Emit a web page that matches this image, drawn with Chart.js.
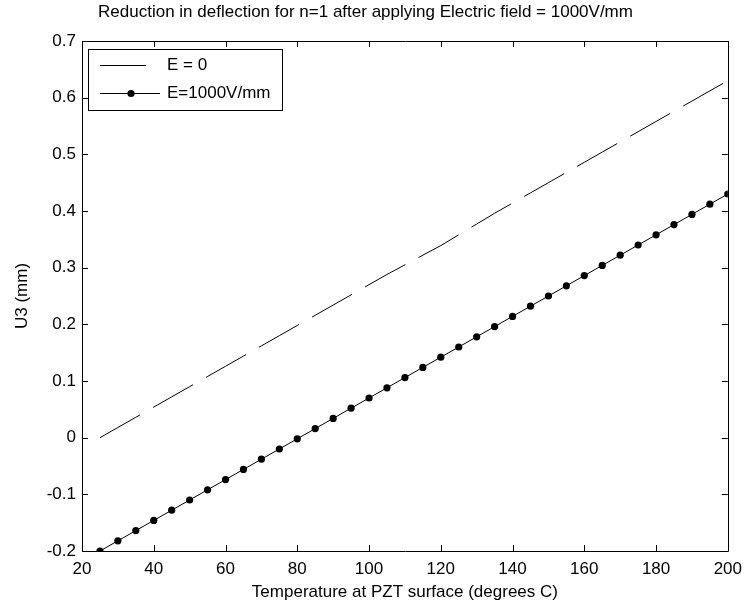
<!DOCTYPE html>
<html>
<head>
<meta charset="utf-8">
<title>Deflection vs temperature</title>
<script src="https://cdn.jsdelivr.net/npm/chart.js@4.4.1/dist/chart.umd.min.js"></script>
<style>
  html, body { margin: 0; padding: 0; background: #fff; }
  #wrap { width: 750px; height: 607px; }
</style>
</head>
<body>
<div id="wrap"><canvas id="deflChart" width="750" height="607"></canvas></div>
<script>
const FONT = '"Liberation Sans", Arial, Helvetica, sans-serif';

const temps = [25, 30, 35, 40, 45, 50, 55, 60, 65, 70, 75, 80, 85, 90, 95, 100, 105, 110,
               115, 120, 125, 130, 135, 140, 145, 150, 155, 160, 165, 170, 175, 180, 185, 190, 195, 200];

// U3 (mm) with no field applied
const u3NoField = [0.000, 0.018, 0.036, 0.054, 0.072, 0.090, 0.108, 0.126, 0.144, 0.162, 0.180, 0.198,
                   0.216, 0.234, 0.252, 0.270, 0.288, 0.305, 0.322, 0.339, 0.358, 0.377, 0.396, 0.414,
                   0.432, 0.450, 0.468, 0.486, 0.504, 0.522, 0.540, 0.558, 0.576, 0.594, 0.612, 0.630];

// U3 (mm) with E = 1000 V/mm
const u3Field = [-0.200, -0.182, -0.164, -0.146, -0.128, -0.110, -0.092, -0.074, -0.056, -0.038, -0.020, -0.002,
                 0.016, 0.034, 0.052, 0.070, 0.088, 0.106, 0.124, 0.142, 0.160, 0.178, 0.196, 0.214,
                 0.232, 0.250, 0.268, 0.286, 0.304, 0.322, 0.340, 0.358, 0.376, 0.394, 0.412, 0.430];

const xTicks = [20, 40, 60, 80, 100, 120, 140, 160, 180, 200];
const yTicks = [-0.2, -0.1, 0, 0.1, 0.2, 0.3, 0.4, 0.5, 0.6, 0.7];

const seriesNames = ['E = 0', 'E=1000V/mm'];

// box around the axes with inward ticks on all four sides
const frame = {
  id: 'frame',
  afterDraw(chart) {
    const { ctx, chartArea: a, scales } = chart;
    const len = 6;
    ctx.save();
    ctx.strokeStyle = '#000';
    ctx.lineWidth = 1;
    ctx.beginPath();
    ctx.rect(Math.round(a.left) + 0.5, Math.round(a.top) + 0.5,
             Math.round(a.right - a.left), Math.round(a.bottom - a.top));
    scales.x.ticks.forEach(t => {
      const px = Math.round(scales.x.getPixelForValue(t.value)) + 0.5;
      ctx.moveTo(px, a.bottom); ctx.lineTo(px, a.bottom - len);
      ctx.moveTo(px, a.top); ctx.lineTo(px, a.top + len);
    });
    scales.y.ticks.forEach(t => {
      const py = Math.round(scales.y.getPixelForValue(t.value)) + 0.5;
      ctx.moveTo(a.left, py); ctx.lineTo(a.left + len, py);
      ctx.moveTo(a.right, py); ctx.lineTo(a.right - len, py);
    });
    ctx.stroke();
    ctx.restore();
  }
};

// boxed legend in the upper-left corner
const boxLegend = {
  id: 'boxLegend',
  afterDraw(chart) {
    const { ctx, chartArea: a } = chart;
    const x0 = a.left + 6, y0 = a.top + 8;
    const w = 194, rowH = 28;
    const h = 61;
    ctx.save();
    ctx.fillStyle = '#fff';
    ctx.fillRect(x0, y0, w, h);
    ctx.strokeStyle = '#000';
    ctx.lineWidth = 1;
    ctx.strokeRect(Math.round(x0) + 0.5, Math.round(y0) + 0.5, w, h);
    ctx.font = '17px ' + FONT;
    ctx.textBaseline = 'middle';
    chart.data.datasets.forEach((ds, i) => {
      const y = Math.round(y0 + 16 + i * rowH) + 0.5;
      const lineEnd = i === 0 ? x0 + 59 : x0 + 72;
      ctx.strokeStyle = ds.borderColor;
      ctx.lineWidth = 1;
      ctx.setLineDash(ds.borderDash || []);
      ctx.beginPath();
      ctx.moveTo(x0 + 12, y);
      ctx.lineTo(lineEnd, y);
      ctx.stroke();
      ctx.setLineDash([]);
      if (ds.pointRadius > 0) {
        ctx.fillStyle = ds.pointBackgroundColor;
        ctx.beginPath();
        ctx.arc(x0 + 43, y, ds.pointRadius, 0, Math.PI * 2);
        ctx.fill();
      }
      ctx.fillStyle = '#000';
      ctx.fillText(ds.label, x0 + 79, y);
    });
    ctx.restore();
  }
};

new Chart(document.getElementById('deflChart'), {
  type: 'line',
  data: {
    labels: temps,
    datasets: [
      {
        label: seriesNames[0],
        data: temps.map((t, i) => ({ x: t, y: u3NoField[i] })),
        borderColor: '#000',
        borderWidth: 1,
        borderDash: [46, 15],
        pointRadius: 0,
        tension: 0,
        fill: false,
      },
      {
        label: seriesNames[1],
        data: temps.map((t, i) => ({ x: t, y: u3Field[i] })),
        borderColor: '#000',
        borderWidth: 1,
        pointRadius: 3.6,
        pointBackgroundColor: '#000',
        pointBorderWidth: 0,
        tension: 0,
        fill: false,
      }
    ]
  },
  options: {
    responsive: false,
    animation: false,
    layout: { padding: { left: 0, right: 19, top: 0, bottom: 0 } },
    plugins: {
      legend: { display: false },
      tooltip: { enabled: false },
      title: {
        display: true,
        text: 'Reduction in deflection for n=1 after applying Electric field = 1000V/mm',
        color: '#000',
        font: { family: FONT, size: 17, weight: 'normal', lineHeight: 1.2 },
        padding: { top: 2, bottom: 18.6 },
      }
    },
    scales: {
      x: {
        type: 'linear',
        min: 20, max: 200,
        afterBuildTicks: s => { s.ticks = xTicks.map(v => ({ value: v })); },
        afterFit: s => { s.height = 56; },
        grid: { display: false, drawTicks: false },
        border: { display: false },
        ticks: { color: '#000', padding: 8, maxRotation: 0, autoSkip: false,
                 font: { family: FONT, size: 17 } },
        title: { display: true, text: 'Temperature at PZT surface (degrees C)', color: '#000',
                 font: { family: FONT, size: 17 }, padding: { top: 0, bottom: 4 } }
      },
      y: {
        type: 'linear',
        min: -0.2, max: 0.7,
        afterBuildTicks: s => { s.ticks = yTicks.map(v => ({ value: v })); },
        afterFit: s => { s.width = 82; },
        grid: { display: false, drawTicks: false },
        border: { display: false },
        ticks: { color: '#000', padding: 6, autoSkip: false,
                 font: { family: FONT, size: 17 },
                 callback: v => (Math.abs(v) < 1e-9 ? '0' : v.toFixed(1)) },
        title: { display: true, text: 'U3 (mm)', color: '#000',
                 font: { family: FONT, size: 17 }, padding: { top: 12, bottom: 0 } }
      }
    }
  },
  plugins: [frame, boxLegend]
});
</script>
</body>
</html>
